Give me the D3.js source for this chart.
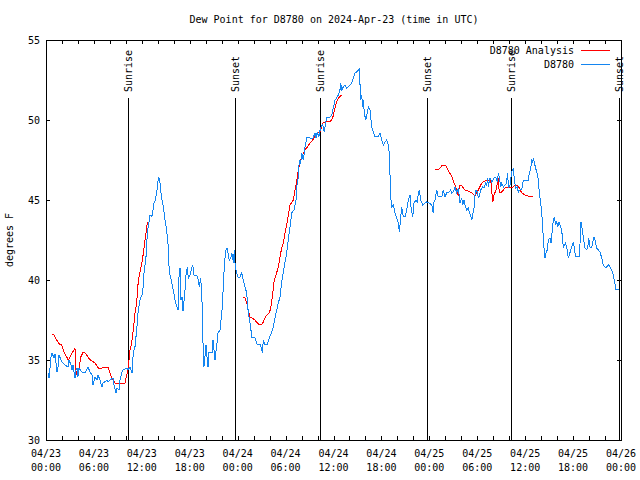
<!DOCTYPE html>
<html><head><meta charset="utf-8">
<script src="https://cdn.jsdelivr.net/npm/d3@7"></script>
<style>
body{margin:0;background:#fff;}
svg{display:block;}
text{font-family:"DejaVu Sans Mono",monospace;font-size:10px;fill:#000;}
</style></head>
<body>
<svg id="chart" width="640" height="480"></svg>
<script>
// ---- data (hours since 2024-04-23 00:00 UTC, degrees F) ----
const title = "Dew Point for D8780 on 2024-Apr-23 (time in UTC)";
const yLabel = "degrees F";
const seriesNames = ["D8780 Analysis", "D8780"];
const seriesColors = ["#ff0000", "#1485f0"];
const yTicks = [30, 35, 40, 45, 50, 55];
const eventNames = ["Sunrise", "Sunset", "Sunrise", "Sunset", "Sunrise", "Sunset"];
const eventHours = [10.3, 23.71, 34.33, 47.75, 58.23, 71.79];

const obsHours = [0.25,0.38,0.63,0.75,1.0,1.13,1.25,1.38,1.5,1.63,1.88,2.0,2.38,2.75,2.88,3.13,3.26,3.38,3.63,3.76,3.88,4.0,4.13,4.51,4.88,5.26,5.51,5.76,5.89,6.14,6.39,6.51,6.76,7.01,7.14,7.64,7.76,8.01,8.39,8.51,8.77,8.89,9.14,9.27,9.52,9.64,9.89,10.14,10.27,10.52,10.77,10.89,11.02,11.14,11.39,11.52,11.77,12.11,12.27,12.52,12.61,12.73,12.9,13.02,13.24,13.36,13.52,13.69,13.86,13.99,14.11,14.28,14.4,14.53,14.69,14.9,15.11,15.31,15.44,15.61,15.74,15.94,16.15,16.4,16.53,16.65,16.78,16.9,17.03,17.16,17.41,17.53,17.69,17.82,18.03,18.24,18.37,18.53,18.78,19.0,19.2,19.37,19.53,19.66,19.78,20.04,20.16,20.29,20.41,20.79,20.91,21.16,21.41,21.54,21.79,22.1,22.2,22.38,22.54,22.66,22.79,22.95,23.17,23.25,23.38,23.45,23.58,23.7,23.88,24.08,24.29,24.5,24.71,24.92,25.13,25.33,25.63,25.76,26.17,26.46,26.88,27.09,27.21,27.42,27.71,27.96,28.26,28.46,28.8,29.09,29.3,29.51,29.8,30.14,30.34,30.55,30.77,31.06,31.31,31.39,31.59,31.72,31.89,32.02,32.22,32.43,32.65,32.85,33.06,33.4,33.68,33.81,33.97,34.15,34.4,34.65,34.85,35.02,35.15,35.56,35.77,35.98,36.19,36.4,36.6,36.81,36.9,37.03,37.23,37.44,37.65,37.85,38.07,38.28,38.48,38.69,38.91,39.11,39.23,39.41,39.53,39.66,39.73,39.86,40.03,40.16,40.36,40.57,40.78,40.99,41.2,41.61,41.82,42.04,42.24,42.45,42.66,42.86,42.99,43.16,43.29,43.49,43.7,43.92,44.12,44.24,44.42,44.54,44.74,44.95,45.17,45.37,45.58,45.71,45.92,46.08,46.33,46.49,46.62,46.74,46.92,47.17,47.46,47.67,48.0,48.3,48.42,48.5,48.58,48.71,48.92,49.12,49.55,49.75,49.96,50.17,50.5,50.68,50.8,51.0,51.21,51.43,51.63,51.84,52.05,52.18,52.34,52.47,52.68,52.88,53.01,53.18,53.31,53.43,53.6,53.72,53.85,54.01,54.14,54.26,54.43,54.68,54.85,55.06,55.19,55.31,55.39,55.6,55.81,56.1,56.35,56.51,56.64,56.76,56.94,57.06,57.27,57.48,57.69,57.77,57.94,58.1,58.32,58.52,58.64,58.82,59.02,59.14,59.36,59.57,59.77,59.98,60.39,60.52,60.7,60.82,60.95,61.02,61.15,61.27,61.45,61.65,61.77,61.95,62.07,62.2,62.27,62.48,62.61,62.77,62.9,63.11,63.24,63.4,63.52,63.65,63.82,63.95,64.07,64.24,64.36,64.49,64.65,64.78,64.9,65.03,65.2,65.4,65.53,65.7,65.9,66.03,66.15,66.33,66.78,66.87,66.99,67.12,67.28,67.49,67.71,67.83,67.96,68.12,68.33,68.46,68.62,68.75,68.96,69.16,69.37,69.58,69.79,70.0,70.21,70.41,70.54,70.71,70.96,71.16,71.37,71.71];
const obsValues = [34.19,33.88,35.19,35.44,35.13,35.38,34.81,34.25,34.56,35.31,35.0,34.88,34.69,34.56,35.0,34.69,34.38,34.69,33.88,34.38,34.5,33.94,34.5,34.25,34.19,34.56,34.25,34.06,33.44,33.94,33.75,34.06,33.75,33.31,33.56,33.75,33.63,33.75,33.88,33.44,32.94,33.25,33.13,33.75,34.25,34.38,34.44,34.5,34.38,34.56,34.19,35.19,35.63,35.81,37.06,37.94,38.75,39.19,40.44,41.44,42.31,43.13,43.63,44.06,43.94,44.25,44.81,45.0,45.44,46.06,46.44,46.06,45.44,45.0,44.56,43.75,43.13,42.06,40.44,40.19,39.81,39.38,38.75,38.31,38.13,40.19,40.75,38.75,38.94,38.06,39.38,40.31,40.81,40.13,40.31,40.75,40.94,40.31,40.31,40.19,39.56,40.13,38.75,36.06,34.56,35.94,35.19,34.56,35.5,35.44,36.25,35.0,36.06,36.69,36.88,38.44,39.69,41.25,41.88,42.0,41.69,41.25,41.44,41.69,41.44,41.06,41.88,40.81,40.44,40.13,40.19,40.44,40.0,39.56,39.19,37.94,37.06,36.38,36.38,35.94,35.94,35.44,36.25,35.94,35.94,36.38,36.75,37.06,37.94,38.56,38.94,39.88,40.75,41.69,42.5,43.31,44.19,44.38,45.0,45.81,46.44,47.5,47.31,47.94,47.5,48.31,48.88,48.88,48.88,48.81,49.19,48.88,49.25,48.94,49.56,49.69,49.25,49.88,50.13,50.19,50.31,50.75,51.25,51.38,51.56,51.88,52.31,51.88,52.06,52.19,52.0,52.06,52.19,52.31,52.63,52.94,53.0,53.13,53.19,51.25,51.56,50.81,51.25,50.44,50.0,50.31,50.81,50.63,49.56,49.25,48.94,48.94,49.19,48.75,48.44,48.63,48.75,48.44,47.94,45.19,44.56,44.69,44.19,43.88,43.56,43.0,43.94,44.56,43.94,43.94,44.38,45.0,45.31,44.56,43.94,44.81,45.0,44.81,45.44,45.63,45.0,44.69,44.81,44.88,44.81,44.69,44.38,44.19,44.88,45.0,45.63,45.19,45.19,45.63,45.19,45.44,45.5,45.63,45.44,45.5,45.81,45.44,45.75,44.81,45.13,44.69,45.0,44.69,44.38,44.5,44.19,44.06,43.75,44.06,44.5,45.31,45.63,45.5,45.13,45.19,45.63,45.81,45.75,46.06,45.94,46.38,45.81,46.38,46.13,46.38,46.38,46.13,46.69,46.44,45.81,46.06,45.81,45.94,46.06,46.69,45.81,45.94,46.75,47.0,46.25,45.75,45.81,45.5,45.63,45.63,46.25,46.25,46.25,46.69,47.0,47.56,47.31,47.63,47.38,47.06,46.75,46.25,45.44,44.81,44.19,43.31,42.5,41.38,41.69,41.88,42.5,42.63,42.31,43.13,43.75,43.94,43.44,43.63,43.31,43.63,43.44,43.25,42.81,42.0,42.19,42.31,42.06,41.38,41.56,41.88,42.19,42.38,42.0,41.44,41.44,42.31,43.63,43.25,42.69,42.0,41.88,42.0,42.63,42.06,42.0,42.38,42.69,42.5,42.0,41.88,41.75,41.38,40.94,40.81,40.81,40.94,40.88,40.75,40.44,40.0,39.38,39.38];

// analysis series; null marks a gap
const anaHours = [0.71,1.0,1.34,1.67,1.97,2.25,2.59,2.79,3.0,3.34,3.63,3.72,3.84,4.04,4.17,4.35,4.6,4.88,5.1,5.42,5.72,6.14,6.55,6.97,7.39,7.8,8.01,8.23,8.64,9.89,10.11,10.31,10.52,10.73,10.93,11.14,11.36,11.48,11.68,11.9,12.11,12.27,12.4,12.52,12.68,12.81,null,
  24.71,24.92,25.13,25.33,25.54,25.76,26.17,26.46,26.71,27.01,27.21,27.42,27.64,27.96,28.14,28.34,28.55,28.8,29.09,29.3,29.51,29.72,29.93,30.14,30.34,30.55,30.97,31.18,31.39,31.59,31.81,32.02,32.43,32.72,33.06,33.4,33.68,33.97,34.31,34.65,35.15,35.56,35.9,36.19,36.4,36.6,37.03,null,
  48.71,49.12,49.55,49.84,50.09,50.38,50.8,51.0,51.21,51.43,51.63,51.76,52.05,52.47,52.88,53.31,53.72,54.14,54.56,54.97,55.39,55.69,55.81,55.94,56.1,56.35,56.64,56.76,57.06,57.48,57.77,58.1,58.44,58.73,59.02,59.27,59.57,59.98,60.39,60.95];
const anaValues = [36.63,36.56,36.25,36.0,35.94,35.5,35.19,35.0,35.19,35.5,35.75,34.38,34.06,34.38,34.56,35.19,35.44,35.44,35.31,35.06,34.94,34.81,34.5,34.5,34.56,34.56,34.19,33.88,33.56,33.56,34.06,34.56,35.63,36.06,36.88,37.94,38.56,39.56,40.31,40.81,41.38,42.0,42.5,42.94,43.56,43.63,null,
  38.94,38.88,38.56,38.13,37.69,37.63,37.5,37.31,37.19,37.19,37.38,37.63,37.81,37.94,38.25,38.94,39.88,40.31,40.81,41.44,42.0,42.31,42.94,43.44,44.06,44.69,45.0,45.63,46.13,46.88,47.31,47.69,48.13,48.31,48.56,48.75,49.0,49.19,49.25,49.81,49.88,49.88,50.13,50.75,51.13,51.38,51.56,null,
  46.88,46.88,47.13,47.19,47.13,46.81,46.5,46.19,45.94,45.56,45.25,45.88,45.88,45.63,45.56,45.44,45.25,45.63,46.06,46.19,46.19,46.25,45.56,44.88,45.31,45.63,46.38,45.44,45.5,45.75,45.81,45.81,45.81,45.94,45.88,45.75,45.44,45.31,45.25,45.19];

// ---- drawing ----
const t0 = Date.UTC(2024, 3, 23);
const toDate = h => new Date(t0 + h * 3600e3);
const L = 46, R = 621, T = 40, B = 440;
const svg = d3.select("#chart");

const x = d3.scaleUtc().domain([toDate(0), toDate(72)]).range([L, R]);
const y = d3.scaleLinear().domain([30, 55]).range([B, T]);

const hourTicks = d3.utcHour.every(2).range(toDate(0), toDate(72.01));

// axes with inward ticks
const gx = svg.append("g").attr("transform", `translate(0,${B})`)
  .call(d3.axisBottom(x).tickValues(hourTicks).tickSizeInner(-4).tickSizeOuter(0).tickFormat(""));
const gt = svg.append("g").attr("transform", `translate(0,${T})`)
  .call(d3.axisTop(x).tickValues(hourTicks).tickSizeInner(-4).tickSizeOuter(0).tickFormat(""));
const gy = svg.append("g").attr("transform", `translate(${L},0)`)
  .call(d3.axisLeft(y).tickValues(yTicks).tickSizeInner(-4).tickSizeOuter(0).tickPadding(6).tickFormat(d3.format("d")));
const gr = svg.append("g").attr("transform", `translate(${R},0)`)
  .call(d3.axisRight(y).tickValues(yTicks).tickSizeInner(-4).tickSizeOuter(0).tickFormat(""));
[gx, gt, gy, gr].forEach(g => {
  g.select(".domain").remove();
  g.selectAll("line").attr("stroke", "#000").attr("shape-rendering", "crispEdges");
  g.selectAll("text").attr("font-family", "DejaVu Sans Mono").attr("font-size", 10).attr("fill", "#000");
});

// bottom labels (two lines, every 6 hours)
const labelTicks = d3.utcHour.every(6).range(toDate(0), toDate(72.01));
const fmtD = d3.utcFormat("%m/%d"), fmtT = d3.utcFormat("%H:%M");
const lab = svg.append("g").selectAll("text").data(labelTicks).join("text")
  .attr("x", d => x(d)).attr("text-anchor", "middle");
lab.append("tspan").attr("x", d => x(d)).attr("y", 457).text(d => fmtD(d));
lab.append("tspan").attr("x", d => x(d)).attr("y", 471).text(d => fmtT(d));

// border
svg.append("rect").attr("x", L).attr("y", T).attr("width", R - L).attr("height", B - T)
  .attr("fill", "none").attr("stroke", "#000").attr("shape-rendering", "crispEdges");

// sun events
const ev = svg.append("g").selectAll("g").data(eventHours.map((h, i) => ({h, name: eventNames[i]}))).join("g");
ev.append("line").attr("x1", d => x(toDate(d.h))).attr("x2", d => x(toDate(d.h)))
  .attr("y1", 98).attr("y2", B).attr("stroke", "#000").attr("shape-rendering", "crispEdges");
ev.append("text").attr("transform", d => `translate(${x(toDate(d.h))},92) rotate(-90)`)
  .attr("dy", "0.35em").text(d => d.name);

// series
const line = d3.line().defined(d => d.v !== null).x(d => x(toDate(d.h))).y(d => y(d.v));
const ana = anaHours.map((h, i) => ({h, v: h === null ? null : anaValues[i]}));
const obs = obsHours.map((h, i) => ({h, v: obsValues[i]}));
svg.append("path").datum(ana).attr("d", line).attr("fill", "none")
  .attr("stroke", seriesColors[0]).attr("stroke-width", 1).attr("shape-rendering", "crispEdges");
svg.append("path").datum(obs).attr("d", line).attr("fill", "none")
  .attr("stroke", seriesColors[1]).attr("stroke-width", 1).attr("shape-rendering", "crispEdges");

// legend
const lg = svg.append("g").selectAll("g").data(seriesNames).join("g")
  .attr("transform", (d, i) => `translate(0,${50 + i * 14})`);
lg.append("text").attr("x", 574).attr("dy", "0.35em").attr("text-anchor", "end").text(d => d);
lg.append("line").attr("x1", 581).attr("x2", 610).attr("y1", 0).attr("y2", 0)
  .attr("stroke", (d, i) => seriesColors[i]).attr("shape-rendering", "crispEdges");

// title and y label
svg.append("text").attr("x", 334).attr("y", 23).attr("text-anchor", "middle").text(title);
svg.append("text").attr("transform", "translate(13,240) rotate(-90)").attr("text-anchor", "middle").text(yLabel);
</script>
</body></html>
